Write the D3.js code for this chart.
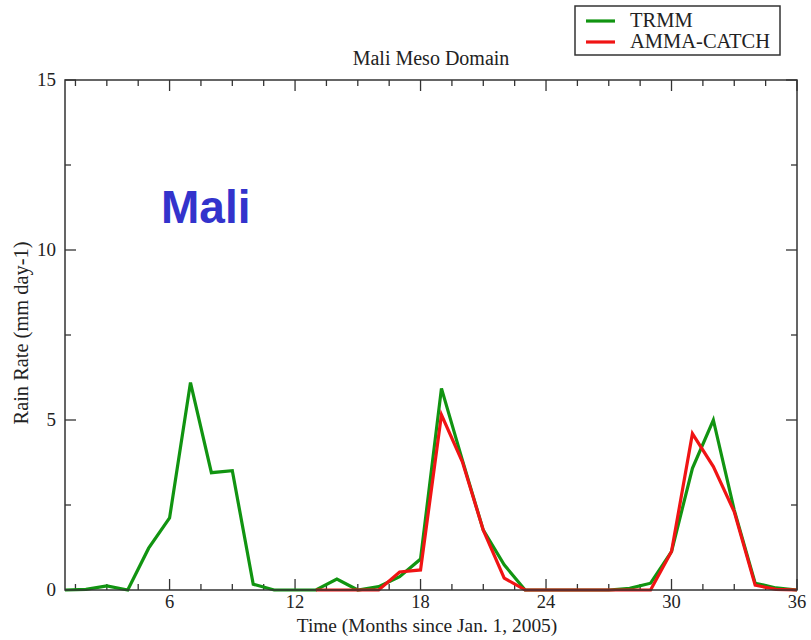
<!DOCTYPE html>
<html>
<head>
<meta charset="utf-8">
<script src="https://cdn.jsdelivr.net/npm/d3@7"></script>
<style>
  html, body { margin: 0; padding: 0; background: #fff; }
  svg { display: block; }
</style>
</head>
<body>
<svg id="chart" width="811" height="640"></svg>
<script>
// Monthly rain rate (mm/day), months since Jan. 1, 2005
const months = d3.range(1, 37);
const trmm = [0, 0.02, 0.12, 0, 1.23, 2.12, 6.1, 3.45, 3.51, 0.17, 0, 0,
              0, 0.32, 0, 0.1, 0.39, 0.91, 5.93, 3.82, 1.76, 0.74, 0, 0,
              0, 0, 0, 0.05, 0.2, 1.13, 3.58, 5.0, 2.35, 0.2, 0.06, 0];
const ammaMonths = d3.range(13, 37);
const amma = [0, 0, 0, 0, 0.53, 0.59, 5.15, 3.77, 1.76, 0.35, 0, 0,
              0, 0, 0, 0, 0, 1.13, 4.6, 3.63, 2.3, 0.14, 0.02, 0];
const xMajorTicks = [6, 12, 18, 24, 30, 36];
const yMajorTicks = [0, 5, 10, 15];
const seriesNames = ["TRMM", "AMMA-CATCH"];
const seriesColors = ["#119411", "#f01414"];

const svg = d3.select("#chart");
const plotLeft = 65, plotRight = 797, plotTop = 80, plotBottom = 590;
const x = d3.scaleLinear().domain([1, 36]).range([plotLeft, plotRight]);
const y = d3.scaleLinear().domain([0, 15]).range([plotBottom, plotTop]);

const serif = "'Liberation Serif', 'Times New Roman', serif";
const axisColor = "#333";

// Ticks pointing inward on all four sides
const xMinor = d3.range(1.5, 36, 1.5).filter(v => !xMajorTicks.includes(v));
const yMinor = [2.5, 7.5, 12.5];
const tickG = svg.append("g").attr("stroke", axisColor).attr("stroke-width", 1.3);
function xTicks(vals, len) {
  vals.forEach(v => {
    tickG.append("line").attr("x1", x(v)).attr("x2", x(v)).attr("y1", plotBottom).attr("y2", plotBottom - len);
    tickG.append("line").attr("x1", x(v)).attr("x2", x(v)).attr("y1", plotTop).attr("y2", plotTop + len);
  });
}
function yTicks(vals, len) {
  vals.forEach(v => {
    tickG.append("line").attr("y1", y(v)).attr("y2", y(v)).attr("x1", plotLeft).attr("x2", plotLeft + len);
    tickG.append("line").attr("y1", y(v)).attr("y2", y(v)).attr("x1", plotRight).attr("x2", plotRight - len);
  });
}
xTicks(xMajorTicks, 11);
xTicks(xMinor, 6);
yTicks(yMajorTicks, 11);
yTicks(yMinor, 6);

// Tick labels
svg.append("g").selectAll("text").data(xMajorTicks).join("text")
  .attr("x", d => x(d)).attr("y", 608)
  .attr("text-anchor", "middle")
  .attr("font-family", serif).attr("font-size", 18.5).attr("fill", "#222")
  .text(d => d);
svg.append("g").selectAll("text").data(yMajorTicks).join("text")
  .attr("x", 56).attr("y", d => y(d) + 6)
  .attr("text-anchor", "end")
  .attr("font-family", serif).attr("font-size", 19).attr("fill", "#222")
  .text(d => d);

// Series lines
const line = d3.line().x(d => x(d[0])).y(d => y(d[1]));
const trmmPts = months.map((m, i) => [m, trmm[i]]);
const ammaPts = ammaMonths.map((m, i) => [m, amma[i]]);
svg.append("path").datum(trmmPts).attr("d", line)
  .attr("fill", "none").attr("stroke", seriesColors[0]).attr("stroke-width", 3.2)
  .attr("stroke-linejoin", "miter");
svg.append("path").datum(ammaPts).attr("d", line)
  .attr("fill", "none").attr("stroke", seriesColors[1]).attr("stroke-width", 3.2)
  .attr("stroke-linejoin", "miter");

// Frame
svg.append("rect").attr("x", plotLeft).attr("y", plotTop)
  .attr("width", plotRight - plotLeft).attr("height", plotBottom - plotTop)
  .attr("fill", "none").attr("stroke", axisColor).attr("stroke-width", 1.5);

// Titles
svg.append("text").attr("x", 431).attr("y", 65)
  .attr("text-anchor", "middle").attr("font-family", serif).attr("font-size", 20).attr("fill", "#222")
  .text("Mali Meso Domain");
svg.append("text").attr("x", 427).attr("y", 632)
  .attr("text-anchor", "middle").attr("font-family", serif).attr("font-size", 19.4).attr("fill", "#222")
  .text("Time (Months since Jan. 1, 2005)");
svg.append("text").attr("transform", `translate(28,333) rotate(-90)`)
  .attr("text-anchor", "middle").attr("font-family", serif).attr("font-size", 20.4).attr("fill", "#222")
  .text("Rain Rate (mm day-1)");

// Region label
svg.append("text").attr("x", 161).attr("y", 223)
  .attr("font-family", "'Liberation Sans', Arial, sans-serif").attr("font-weight", "bold")
  .attr("font-size", 46).attr("fill", "#3333cc")
  .text("Mali");

// Legend
const lg = svg.append("g");
lg.append("rect").attr("x", 575).attr("y", 6).attr("width", 205).attr("height", 49)
  .attr("fill", "#fff").attr("stroke", axisColor).attr("stroke-width", 1.5);
seriesNames.forEach((name, i) => {
  const yy = 21 + i * 21;
  lg.append("line").attr("x1", 586).attr("x2", 615).attr("y1", yy).attr("y2", yy)
    .attr("stroke", seriesColors[i]).attr("stroke-width", 3.2);
  lg.append("text").attr("x", 630).attr("y", yy + 6)
    .attr("font-family", serif).attr("font-size", 20.5).attr("fill", "#222")
    .text(name);
});
</script>
</body>
</html>
